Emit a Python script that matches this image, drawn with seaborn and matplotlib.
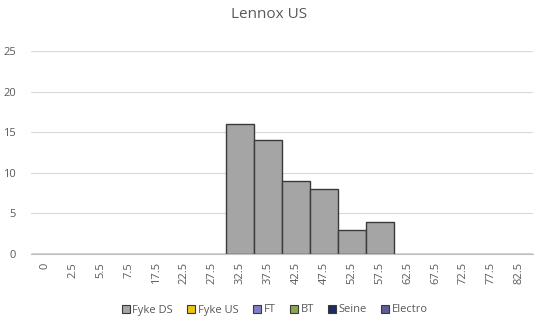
import matplotlib
matplotlib.use("Agg")
import matplotlib.pyplot as plt
from matplotlib.patches import Patch
import seaborn as sns
import pandas as pd

# Length classes (mm bins) on the x axis
categories = ["0", "2.5", "5.5", "7.5", "17.5", "22.5", "27.5", "32.5", "37.5",
              "42.5", "47.5", "52.5", "57.5", "62.5", "67.5", "72.5", "77.5", "82.5"]
# Counts per gear type
fyke_ds = [0, 0, 0, 0, 0, 0, 0, 16, 14, 9, 8, 3, 4, 0, 0, 0, 0, 0]
series_names = ["Fyke DS", "Fyke US", "FT", "BT", "Seine", "Electro"]
series_colors = ["#a5a5a5", "#e6c619", "#7f7fc6", "#8aa650", "#1f2a5e", "#5f5f94"]
y_ticks = [0, 5, 10, 15, 20, 25]
title = "Lennox US"

sns.set_theme(style="white")
plt.rcParams["font.family"] = ["Open Sans", "DejaVu Sans"]

fig = plt.figure(figsize=(5.39, 3.24), dpi=100)
ax = fig.add_axes([31 / 539, 1 - 254 / 324, (533 - 31) / 539, (254 - 51) / 324])

df = pd.DataFrame({"bin": categories, "count": fyke_ds})
sns.barplot(data=df, x="bin", y="count", order=categories, color=series_colors[0],
            saturation=1, width=1.0, edgecolor="#3a3a3a", linewidth=1.0, ax=ax, zorder=3)

ax.set_ylim(0, 25)
ax.set_xlim(-0.5, len(categories) - 0.5)
ax.set_yticks(y_ticks)
ax.yaxis.grid(True, color="#d9d9d9", linewidth=0.8)
ax.set_axisbelow(True)
for s in ["top", "right", "left"]:
    ax.spines[s].set_visible(False)
ax.spines["bottom"].set_color("#bfbfbf")
ax.spines["bottom"].set_linewidth(0.8)
ax.spines["bottom"].set_zorder(4)

ax.set_xlabel("")
ax.set_ylabel("")
ax.tick_params(axis="x", length=0, pad=6, labelsize=8, labelcolor="#595959", labelrotation=90)
ax.tick_params(axis="y", length=0, pad=11, labelsize=8, labelcolor="#595959")

fig.text(0.5, 1 - 14 / 324, title, ha="center", va="center", fontsize=11, color="#595959")

handles = [Patch(facecolor=c, edgecolor="#3a3a3a", linewidth=0.8) for c in series_colors]
fig.legend(handles, series_names, loc="center", bbox_to_anchor=(0.51, 1 - 310 / 324),
           ncol=6, frameon=False, fontsize=8, labelcolor="#595959",
           handlelength=0.7, handleheight=0.7, handletextpad=0.25, columnspacing=1.3)

fig.savefig("out.png", dpi=100)
